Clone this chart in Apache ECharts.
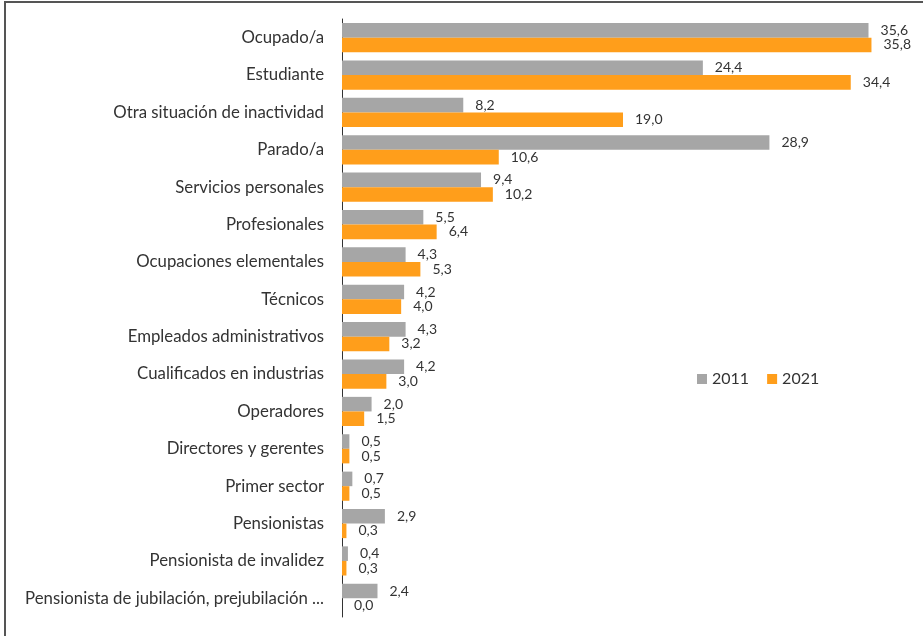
<!DOCTYPE html>
<html style="height: 100%">
<head>
<meta charset="utf-8">
</head>
<body style="height: 100%; margin: 0; background: #fff">
<div style="position:absolute; left:4px; top:1px; right:-10px; bottom:-10px; border-top:2px solid #555; border-left:2px solid #555"></div>
<div id="container" style="position:absolute; left:0; top:0; width:923px; height:636px"></div>
<script type="text/javascript" src="https://cdn.jsdelivr.net/npm/echarts@6/dist/echarts.min.js"></script>
<script type="text/javascript">
var categories = [
    'Ocupado/a',
    'Estudiante',
    'Otra situación de inactividad',
    'Parado/a',
    'Servicios personales',
    'Profesionales',
    'Ocupaciones elementales',
    'Técnicos',
    'Empleados administrativos',
    'Cualificados en industrias',
    'Operadores',
    'Directores y gerentes',
    'Primer sector',
    'Pensionistas',
    'Pensionista de invalidez',
    'Pensionista de jubilación, prejubilación ...'
];
var values2011 = [35.6, 24.4, 8.2, 28.9, 9.4, 5.5, 4.3, 4.2, 4.3, 4.2, 2.0, 0.5, 0.7, 2.9, 0.4, 2.4];
var values2021 = [35.8, 34.4, 19.0, 10.6, 10.2, 6.4, 5.3, 4.0, 3.2, 3.0, 1.5, 0.5, 0.5, 0.3, 0.3, 0.0];

var fmt = function (p) {
    return p.value.toFixed(1).replace('.', ',');
};

var myChart = echarts.init(document.getElementById('container'));
var option = {
    animation: false,
    textStyle: { fontFamily: 'Lato' },
    legend: {
        left: 692,
        top: 366,
        itemWidth: 10,
        itemHeight: 10,
        itemGap: 18,
        icon: 'rect',
        textStyle: { fontSize: 16, color: '#333', fontFamily: 'Lato' },
        data: ['2011', '2021']
    },
    grid: { left: 342, top: 19, width: 562, height: 598 },
    xAxis: {
        type: 'value',
        min: 0,
        max: 38,
        show: false,
        splitLine: { show: false }
    },
    yAxis: {
        type: 'category',
        inverse: true,
        data: categories,
        axisTick: { show: false },
        axisLine: { lineStyle: { color: '#333', width: 1 } },
        axisLabel: { fontSize: 16.8, color: '#333', margin: 18, fontFamily: 'Lato' }
    },
    series: [
        {
            name: '2011',
            type: 'bar',
            data: values2011,
            barGap: 0,
            barCategoryGap: '22%',
            itemStyle: { color: '#A6A6A6' },
            label: { show: true, position: 'right', distance: 12, fontSize: 14, color: '#333', formatter: fmt }
        },
        {
            name: '2021',
            type: 'bar',
            data: values2021,
            itemStyle: { color: '#FF9E1B' },
            label: { show: true, position: 'right', distance: 12, fontSize: 14, color: '#333', formatter: fmt }
        }
    ]
};
myChart.setOption(option);
</script>
</body>
</html>
